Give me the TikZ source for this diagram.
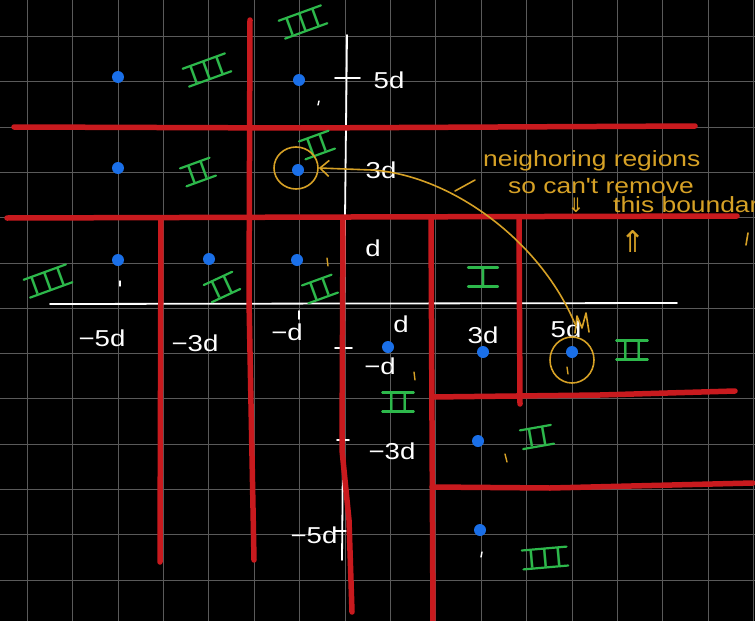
\documentclass[tikz,border=0pt]{standalone}
\usepackage{fontspec}
\setmainfont{Liberation Sans}
\newfontfamily\hand[FakeStretch=1.2]{Liberation Sans}
\newfontfamily\symf{DejaVu Sans}
\usetikzlibrary{arrows.meta,shapes.geometric}
\definecolor{gridc}{HTML}{5A5A5A}
\definecolor{redl}{HTML}{C81A1E}
\definecolor{bluep}{HTML}{1A6FE8}
\definecolor{greenl}{HTML}{2DB84B}
\definecolor{yell}{HTML}{D6A126}
\newcommand\rnii{I\kern6pt I}
\newcommand\rniii{I\kern6pt I\kern6pt I}
\begin{document}
\begin{tikzpicture}[x=1pt,y=-1pt,
  gridline/.style={gridc, line width=0.9pt},
  axisline/.style={white, line width=1.8pt, line cap=round},
  wall/.style={redl, line width=5.5pt, line cap=round, line join=round},
  pt/.style={circle, fill=bluep, minimum size=12pt, inner sep=0pt},
  wlab/.style={white, font=\hand\fontsize{23}{23}\selectfont, inner sep=0pt},
  rnbar/.style={draw=greenl, line width=2.2pt, line cap=round},
  rn/.style={greenl, font=\fontsize{27}{27}\selectfont, inner xsep=5pt, inner ysep=0pt,
    append after command={(\tikzlastnode.north west) edge[rnbar] (\tikzlastnode.north east)
      (\tikzlastnode.south west) edge[rnbar] (\tikzlastnode.south east)}},
  note/.style={yell, font=\hand\fontsize{22}{22}\selectfont, inner sep=0pt, anchor=base west},
  hl/.style={ellipse, draw=yell, line width=1.6pt, inner sep=0pt},
  ann/.style={yell, line width=1.6pt, line cap=round, line join=round},
  speck/.style={line width=1.4pt, line cap=round},
]
\useasboundingbox (0,0) rectangle (755,621);
\fill[black] (0,0) rectangle (755,621);
\clip (0,0) rectangle (755,621);
% grid
\foreach \i in {0,...,16} \draw[gridline] ({27.3+45.4*\i},0) -- ({27.3+45.4*\i},621);
\foreach \j in {0,...,13} \draw[gridline] (0,{36.5+45.3*\j}) -- (755,{36.5+45.3*\j});
% axes
\draw[axisline] (50,304) -- (677,303);
\draw[axisline] (347,35) -- (345,218) -- (342,560);
\draw[axisline] (335,78) -- (360,78);
\draw[axisline] (335,348) -- (352,348);
\draw[axisline] (337,440) -- (349,440);
\draw[axisline] (334,531) -- (346,531);
\draw[axisline] (299,311) -- (299,319);
% axis labels
\node[wlab] (ly5) at (389,80) {5d};
\node[wlab] (ly3) at (381,170) {3d};
\node[wlab] (ly1) at (373,248) {d};
\node[wlab] (lym1) at (380,366) {−d};
\node[wlab] (lym3) at (392,451) {−3d};
\node[wlab] (lym5) at (314,535) {−5d};
\node[wlab] (lxm5) at (102,338) {−5d};
\node[wlab] (lxm3) at (195,343) {−3d};
\node[wlab] (lxm1) at (287,332) {−d};
\node[wlab] (lx1) at (401,324) {d};
\node[wlab] (lx3) at (483,335) {3d};
\node[wlab] (lx5) at (566,329) {5d};
% red boundaries
\draw[wall] (14,127) -- (300,128) -- (695,126);
\draw[wall] (7,218) -- (350,217) -- (737,216);
\draw[wall] (250,20) -- (249,300) -- (254,560);
\draw[wall] (161,218) -- (160,562);
\draw[wall] (343,218) -- (342,450) -- (349,520) -- (352,612);
\draw[wall] (431,218) -- (433,625);
\draw[wall] (519,218) -- (520,404);
\draw[wall] (432,397) -- (600,395) -- (735,391);
\draw[wall] (432,487) -- (550,488) -- (753,483);
% points
\foreach \p/\q [count=\k] in {118/77,118/168,118/260,209/259,299/80,298/170,297/260,388/347,483/352,572/352,478/441,480/530}
  \node[pt] (p\k) at (\p,\q) {};
% specks
\draw[speck, white] (120,281) -- (120,286);
\draw[speck, white] (319,101) -- (318,105);
\draw[speck, white] (482,552) -- (481,557);
\draw[speck, yell] (327,258) -- (328,266);
\draw[speck, yell] (414,372) -- (415,380);
\draw[speck, yell] (505,454) -- (507,462);
\draw[speck, yell] (567,367) -- (568,374);
% region labels
\node[rn, rotate=20] (r1) at (207,70) {\rniii};
\node[rn, rotate=20] (r2) at (303,22) {\rniii};
\node[rn, rotate=20] (r3) at (198,172) {\rnii};
\node[rn, rotate=20] (r4) at (317,145) {\rnii};
\node[rn, rotate=20] (r5) at (48,281) {\rniii};
\node[rn, rotate=25] (r6) at (222,287) {\rnii};
\node[rn, rotate=20] (r7) at (320,289) {\rnii};
\node[rn, inner xsep=11pt] (r8) at (483,277) {I};
\node[rn] (r9) at (632,350) {\rnii};
\node[rn] (r10) at (398,402) {\rnii};
\node[rn, rotate=10] (r11) at (537,437) {\rnii};
\node[rn, rotate=5] (r12) at (545,558) {\rniii};
% annotation
\node[hl, minimum width=44pt, minimum height=42pt] (c1) at (296,168) {};
\node[hl, minimum width=44pt, minimum height=46pt] (c2) at (572,360) {};
\coordinate (a2) at (575,324);
\draw[ann, {Straight Barb[length=9pt,width=16pt]}-] (c1.east) -- (372,170) .. controls (450,175) and (540,240) .. (a2);
\draw[ann] (575,333) -- (577,316) -- (582,328) -- (586,313) -- (589,332);
\draw[ann] (455,191) -- (475,180);
\node[note] (t1) at (483,166) {neighoring regions};
\node[note] (t2) at (508,193) {so can't remove};
\node[note] (t3) at (613,212) {this boundary};
\node[yell, font=\symf\fontsize{20}{20}\selectfont, inner sep=0pt] (da) at (576,205) {⇓};
\node[yell, font=\symf\fontsize{30}{30}\selectfont, inner sep=0pt] (ua) at (633,242) {⇑};
\draw[ann] (748,233) -- (746,245);
\end{tikzpicture}
\end{document}
